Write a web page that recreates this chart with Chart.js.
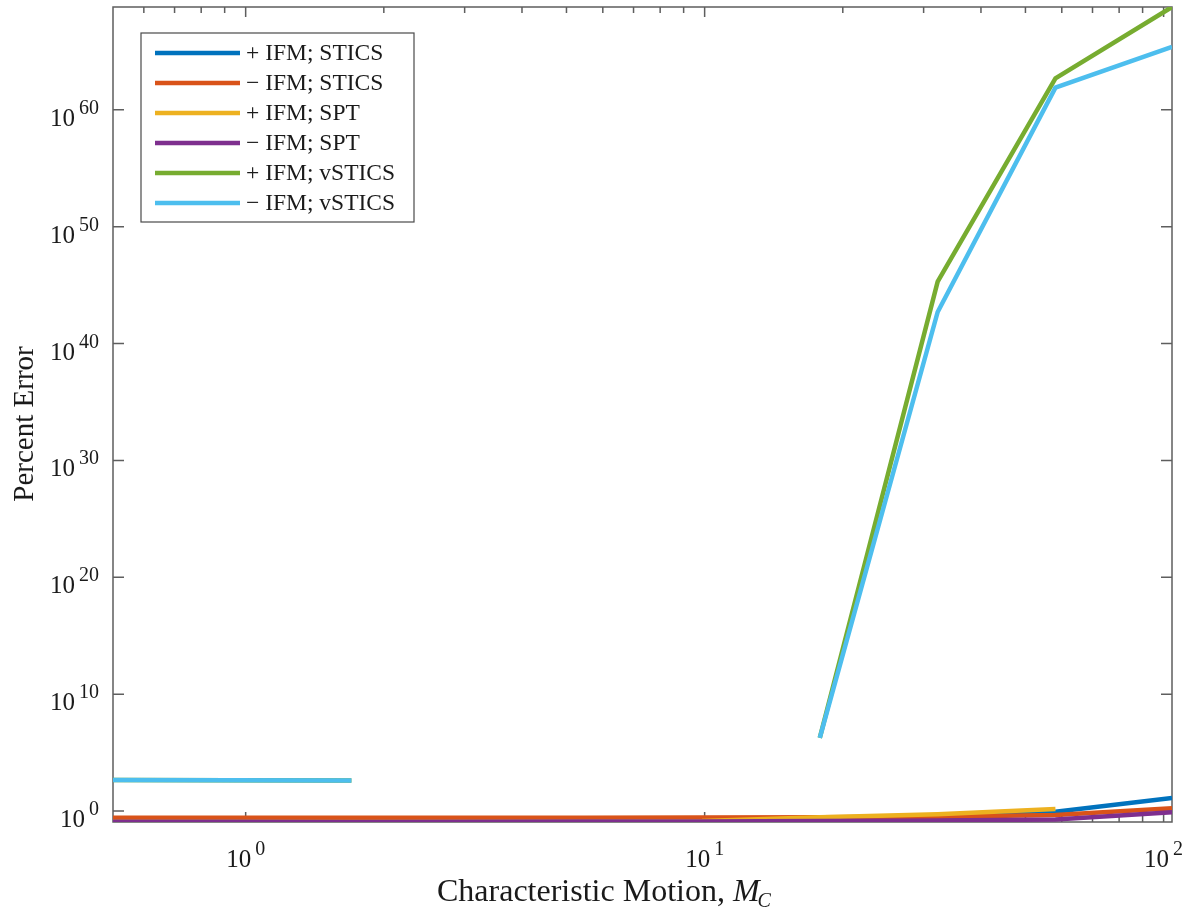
<!DOCTYPE html>
<html lang="en">
<head>
    <meta charset="UTF-8">
    <title>Percent Error vs Characteristic Motion</title>
    <script src="https://cdn.jsdelivr.net/npm/chart.js"></script>
    <style>
        body {
            margin: 0;
            padding: 0;
            background-color: white;
        }

        .chart-box {
            width: 1192px;
            height: 916px;
            position: relative;
        }
    </style>
</head>
<body>

    <div class="chart-box">
        <canvas id="errorChart"></canvas>
    </div>

    <script>
        // Characteristic motion values (x axis, log spaced)
        var mcValues = [0.514, 0.928, 1.70, 3.027, 5.467, 9.87, 17.82, 32.19, 58.12, 104.3];

        // Percent error for each method (null = no value / gap)
        var plusStics   = [0.22, 0.22, 0.22, 0.22, 0.22, 0.23, 0.24, 0.26, 0.85, 13];
        var minusStics  = [0.27, 0.27, 0.27, 0.27, 0.27, 0.28, 0.29, 0.32, 0.45, 1.7];
        var plusSpt     = [0.12, 0.12, 0.115, 0.12, 0.125, 0.14, 0.30, 0.52, 1.48, null];
        var minusSpt    = [0.12, 0.12, 0.115, 0.12, 0.125, 0.13, 0.14, 0.155, 0.19, 0.78];
        var plusVstics  = [450, 420, 400, null, null, null, 1.8e6, 2e45, 5e62, 6.3e68];
        var minusVstics = [450, 420, 400, null, null, null, 1.8e6, 5e42, 8e61, 2.5e65];

        var seriesLabels = ['+ IFM; STICS', '\u2212 IFM; STICS', '+ IFM; SPT', '\u2212 IFM; SPT', '+ IFM; vSTICS', '\u2212 IFM; vSTICS'];
        var seriesColors = ['#0072BD', '#D95319', '#EDB120', '#7E2F8E', '#77AC30', '#4DBEEE'];
        var allSeries = [plusStics, minusStics, plusSpt, minusSpt, plusVstics, minusVstics];

        // tick exponents
        var xTickExps = [0, 1, 2];
        var yTickExps = [0, 10, 20, 30, 40, 50, 60];

        var serif = '"Liberation Serif", "DejaVu Serif", serif';
        var axisColor = '#5e5e5e';
        var textColor = '#1a1a1a';

        function toPoints(arr) {
            return mcValues.map(function (x, i) { return { x: x, y: arr[i] }; });
        }

        var allValues = [];
        allSeries.forEach(function (s) {
            s.forEach(function (v) { if (v !== null) allValues.push(v); });
        });

        var datasets = allSeries.map(function (s, i) {
            return {
                label: seriesLabels[i],
                data: toPoints(s),
                borderColor: seriesColors[i],
                backgroundColor: seriesColors[i],
                borderWidth: 4.5,
                pointRadius: 0,
                tension: 0,
                spanGaps: false,
                order: allSeries.length - i
            };
        });

        // draws "10" with a raised exponent
        function drawPower(ctx, exp, x, y, align) {
            var base = '10';
            var sup = String(exp);
            ctx.font = '25px ' + serif;
            var wb = ctx.measureText(base).width;
            ctx.font = '20px ' + serif;
            var ws = ctx.measureText(sup).width;
            var gap = 4;
            var total = wb + gap + ws;
            var left = align === 'right' ? x - total : x - total / 2;
            ctx.fillStyle = textColor;
            ctx.textAlign = 'left';
            ctx.textBaseline = 'alphabetic';
            ctx.font = '25px ' + serif;
            ctx.fillText(base, left, y);
            ctx.font = '20px ' + serif;
            ctx.fillText(sup, left + wb + gap, y - 12);
        }

        var matlabAxes = {
            id: 'matlabAxes',
            beforeDatasetsDraw: function (chart) {
                var ctx = chart.ctx;
                var a = chart.chartArea;
                var xs = chart.scales.x;
                var ys = chart.scales.y;
                ctx.save();
                ctx.strokeStyle = axisColor;
                ctx.lineWidth = 1.5;
                ctx.strokeRect(a.left, a.top, a.right - a.left, a.bottom - a.top);

                // x ticks, major and minor, inward on bottom and top
                var dMin = Math.floor(Math.log10(xs.min));
                var dMax = Math.ceil(Math.log10(xs.max));
                for (var d = dMin; d <= dMax; d++) {
                    for (var k = 1; k <= 9; k++) {
                        var v = k * Math.pow(10, d);
                        if (v < xs.min || v > xs.max) continue;
                        var px = xs.getPixelForValue(v);
                        var len = k === 1 ? 10 : 6;
                        ctx.beginPath();
                        ctx.moveTo(px, a.bottom);
                        ctx.lineTo(px, a.bottom - len);
                        ctx.moveTo(px, a.top);
                        ctx.lineTo(px, a.top + len);
                        ctx.stroke();
                    }
                }

                // y ticks on left and right
                yTickExps.forEach(function (e) {
                    var py = ys.getPixelForValue(Math.pow(10, e));
                    ctx.beginPath();
                    ctx.moveTo(a.left, py);
                    ctx.lineTo(a.left + 11, py);
                    ctx.moveTo(a.right, py);
                    ctx.lineTo(a.right - 11, py);
                    ctx.stroke();
                });
                ctx.restore();
            },
            afterDraw: function (chart) {
                var ctx = chart.ctx;
                var a = chart.chartArea;
                var xs = chart.scales.x;
                var ys = chart.scales.y;
                ctx.save();

                // tick labels
                xTickExps.forEach(function (e) {
                    var px = xs.getPixelForValue(Math.pow(10, e));
                    drawPower(ctx, e, px, a.bottom + 45, 'center');
                });
                yTickExps.forEach(function (e) {
                    var py = ys.getPixelForValue(Math.pow(10, e));
                    drawPower(ctx, e, a.left - 14, py + 16, 'right');
                });

                // x axis title with italic M and subscript C
                ctx.fillStyle = textColor;
                ctx.textAlign = 'left';
                ctx.textBaseline = 'alphabetic';
                var t1 = 'Characteristic Motion, ';
                ctx.font = '32px ' + serif;
                var w1 = ctx.measureText(t1).width;
                ctx.font = 'italic 32px ' + serif;
                var w2 = ctx.measureText('M').width;
                var startX = 437;
                ctx.font = '32px ' + serif;
                ctx.fillText(t1, startX, 901);
                ctx.font = 'italic 32px ' + serif;
                ctx.fillText('M', startX + w1, 901);
                ctx.font = 'italic 20px ' + serif;
                ctx.fillText('C', startX + w1 + w2 - 2, 907);

                // y axis title
                ctx.save();
                ctx.translate(33, 424);
                ctx.rotate(-Math.PI / 2);
                ctx.textAlign = 'center';
                ctx.font = '29px ' + serif;
                ctx.fillText('Percent Error', 0, 0);
                ctx.restore();

                // legend box
                var lx = 141, ly = 33, lw = 273, lh = 189;
                ctx.fillStyle = 'white';
                ctx.fillRect(lx, ly, lw, lh);
                ctx.strokeStyle = '#4a4a4a';
                ctx.lineWidth = 1.2;
                ctx.strokeRect(lx, ly, lw, lh);
                chart.data.datasets.forEach(function (ds, i) {
                    var rowY = 53 + i * 30;
                    ctx.strokeStyle = ds.borderColor;
                    ctx.lineWidth = 4.5;
                    ctx.beginPath();
                    ctx.moveTo(155, rowY);
                    ctx.lineTo(240, rowY);
                    ctx.stroke();
                    ctx.fillStyle = textColor;
                    ctx.font = '23.5px ' + serif;
                    ctx.textBaseline = 'middle';
                    ctx.fillText(ds.label, 246, rowY + 1);
                });
                ctx.restore();
            }
        };

        var ctx = document.getElementById('errorChart').getContext('2d');
        var errorChart = new Chart(ctx, {
            type: 'line',
            data: { datasets: datasets },
            options: {
                responsive: true,
                maintainAspectRatio: false,
                animation: false,
                layout: {
                    padding: { left: 0, right: 20, top: 7, bottom: 0 }
                },
                plugins: {
                    legend: { display: false },
                    tooltip: { enabled: false }
                },
                scales: {
                    x: {
                        type: 'logarithmic',
                        min: mcValues[0],
                        max: mcValues[mcValues.length - 1],
                        grid: { display: false },
                        border: { display: false },
                        ticks: { display: false },
                        afterFit: function (scale) { scale.height = 94; }
                    },
                    y: {
                        type: 'logarithmic',
                        min: Math.min.apply(null, allValues),
                        max: Math.max.apply(null, allValues),
                        grid: { display: false },
                        border: { display: false },
                        ticks: { display: false },
                        afterBuildTicks: function (scale) {
                            scale.ticks = yTickExps.map(function (e) { return { value: Math.pow(10, e) }; });
                        },
                        afterFit: function (scale) { scale.width = 113; }
                    }
                }
            },
            plugins: [matlabAxes]
        });
    </script>
</body>
</html>
